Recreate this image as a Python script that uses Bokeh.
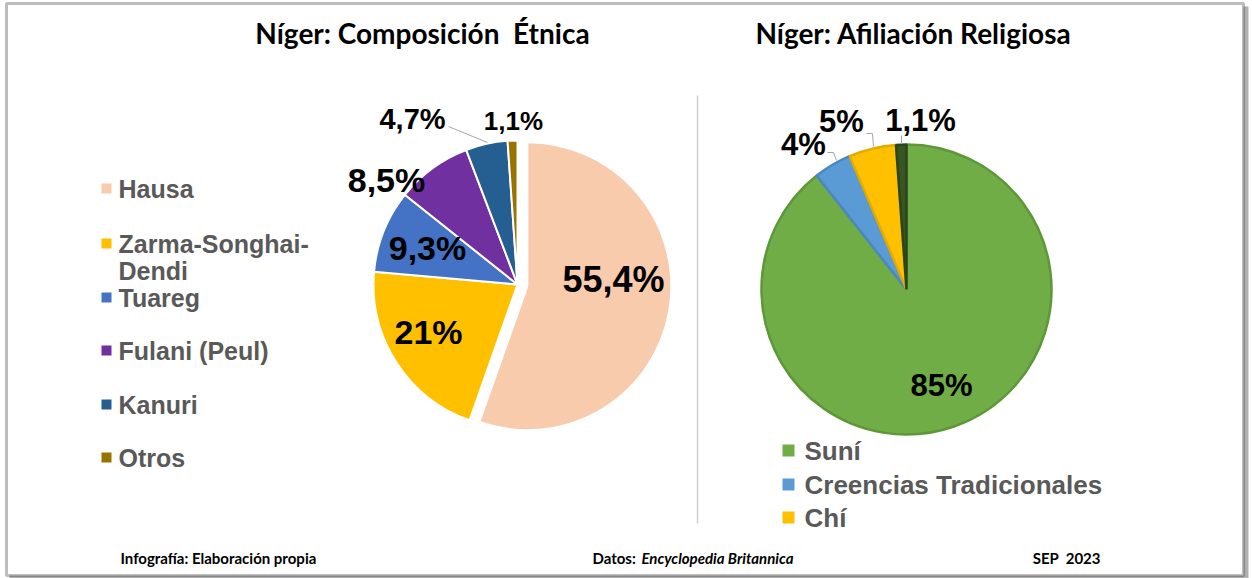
import math
from bokeh.plotting import figure
from bokeh.models import Range1d, BoxAnnotation
from bokeh.core.properties import value
from bokeh.embed import file_html
from bokeh.resources import INLINE

# ---------------- data ----------------
eth_labels = ["Hausa", "Zarma-Songhai-Dendi", "Tuareg", "Fulani (Peul)", "Kanuri", "Otros"]
eth_values = [55.4, 21, 9.3, 8.5, 4.7, 1.1]
eth_colors = ["#F8CBAD", "#FFC000", "#4472C4", "#7030A0", "#255E91", "#997300"]

rel_labels = ["Suní", "Creencias Tradicionales", "Chí", "Otras"]
rel_values = [85, 4, 5, 1.1]
rel_colors = ["#70AD47", "#5B9BD5", "#FFC000", "#375623"]
rel_lines = ["#5E9638", "#4A88C2", "#E3AA00", "#2C461C"]
rel_legend_count = 3

title_left = "Níger: Composición\u00a0 Étnica"
title_right = "Níger: Afiliación Religiosa"
foot_left = "Infografía: Elaboración propia"
foot_mid_a = "Datos:"
foot_mid_b = "Encyclopedia Britannica"
foot_right = "SEP\u00a0 2023"

# ---------------- layout ----------------
W, H = 1252, 578
def Y(s):
    return H - s

def fmt(v):
    return f"{v:g}".replace(".", ",") + "%"

def wedges(vals, cx, cy, explode):
    tot = sum(vals)
    xs, ys, st, en = [], [], [], []
    c = 0.0
    for v, e in zip(vals, explode):
        a0 = math.pi / 2 - 2 * math.pi * c / tot
        a1 = math.pi / 2 - 2 * math.pi * (c + v) / tot
        mid = (a0 + a1) / 2
        xs.append(cx + e * math.cos(mid))
        ys.append(cy + e * math.sin(mid))
        st.append(a0)
        en.append(a1)
        c += v
    return xs, ys, st, en

p = figure(width=W, height=H, x_range=Range1d(0, W), y_range=Range1d(0, H),
           output_backend="svg", toolbar_location=None, min_border=0)
p.axis.visible = False
p.grid.visible = False
p.outline_line_color = None
p.background_fill_color = "white"
p.border_fill_color = "white"

# frame with shadow
p.add_layout(BoxAnnotation(left=9, right=1248, top=Y(6), bottom=0, fill_color="#B0B0B0",
                           fill_alpha=1, line_color=None, level="underlay"))
p.add_layout(BoxAnnotation(left=6, right=1243, top=Y(3), bottom=Y(575), fill_color="white",
                           fill_alpha=1, line_color="#262626", line_width=3, level="underlay"))

# divider
p.segment(x0=[697], y0=[Y(95)], x1=[697], y1=[Y(523)], line_color="#D0D0D0", line_width=1.5)

# titles
tf = value("Lato")
p.text(x=[422], y=[Y(32)], text=[title_left], text_font=tf, text_font_style="bold",
       text_font_size="28px", text_align="center", text_baseline="middle", text_color="black")
p.text(x=[913], y=[Y(32)], text=[title_right], text_font=tf, text_font_style="bold",
       text_font_size="28px", text_align="center", text_baseline="middle", text_color="black")

# ---- left pie ----
lx, ly, lr = 517, Y(284), 144
explode = [10] + [0] * (len(eth_values) - 1)
xs, ys, st, en = wedges(eth_values, lx, ly, explode)
p.wedge(x=xs, y=ys, radius=lr, start_angle=st, end_angle=en, direction="clock",
        fill_color=eth_colors, line_color="white", line_width=2)

eth_label_pos = [(613, 279), (428, 331), (427, 247), (386, 179), (412, 118), (513, 120)]
eth_label_size = ["36px", "34px", "34px", "34px", "29px", "26px"]
for (px, py), t, sz in zip(eth_label_pos, [fmt(v) for v in eth_values], eth_label_size):
    p.text(x=[px], y=[Y(py)], text=[t], text_font=value("Liberation Sans"), text_font_style="bold",
           text_font_size=sz, text_align="center", text_baseline="middle", text_color="black")
# leader for 4,7%
p.line(x=[448, 487], y=[Y(126), Y(142)], line_color="#A6A6A6", line_width=1)

# left legend
leg_rows = [188, 243, 297, 350, 404, 457]
p.scatter(x=[106] * len(eth_labels), y=[Y(r) for r in leg_rows], marker="square", size=10,
          fill_color=eth_colors, line_color=None)
for lab, r in zip(eth_labels, leg_rows):
    lines = [lab]
    if lab.count("-") == 2:
        i = lab.rfind("-")
        lines = [lab[:i + 1], lab[i + 1:]]
    for k, ln in enumerate(lines):
        p.text(x=[118], y=[Y(r + 27 * k)], text=[ln], text_font=value("Liberation Sans"),
               text_font_style="bold", text_font_size="25px", text_align="left",
               text_baseline="middle", text_color="#595959")

# ---- right pie ----
rx, ry, rr = 906, Y(289), 145
xs, ys, st, en = wedges(rel_values, rx, ry, [0] * len(rel_values))
p.wedge(x=xs, y=ys, radius=rr, start_angle=st, end_angle=en, direction="clock",
        fill_color=rel_colors, line_color=rel_lines, line_width=2.5)

rel_label_pos = [(941, 385), (803, 144), (841, 121), (920, 120)]
for (px, py), t in zip(rel_label_pos, [fmt(v) for v in rel_values]):
    p.text(x=[px], y=[Y(py)], text=[t], text_font=value("Liberation Sans"), text_font_style="bold",
           text_font_size="31px", text_align="center", text_baseline="middle", text_color="black")
# leaders
p.multi_line(xs=[[827, 833, 836], [866, 872, 873], [901, 901]],
             ys=[[Y(152), Y(152), Y(160)], [Y(133), Y(133), Y(146)], [Y(135), Y(143)]],
             line_color="#A6A6A6", line_width=1)

# right legend
rleg_rows = [450, 484, 517]
p.scatter(x=[788] * rel_legend_count, y=[Y(r) for r in rleg_rows], marker="square", size=12,
          fill_color=rel_colors[:rel_legend_count], line_color=None)
for lab, r in zip(rel_labels[:rel_legend_count], rleg_rows):
    p.text(x=[804], y=[Y(r)], text=[lab], text_font=value("Liberation Sans"),
           text_font_style="bold", text_font_size="26px", text_align="left",
           text_baseline="middle", text_color="#595959")

# footer
ff = value("Lato")
fs = "15px"
p.text(x=[120], y=[Y(557)], text=[foot_left], text_font=ff, text_font_size=fs, text_font_style="bold",
       text_align="left", text_baseline="middle", text_color="black")
p.text(x=[592], y=[Y(557)], text=[foot_mid_a], text_font=ff, text_font_size=fs, text_font_style="bold",
       text_align="left", text_baseline="middle", text_color="black")
p.text(x=[641], y=[Y(557)], text=[foot_mid_b], text_font=ff, text_font_size=fs,
       text_font_style="bold italic", text_align="left", text_baseline="middle", text_color="black")
p.text(x=[1100], y=[Y(557)], text=[foot_right], text_font=ff, text_font_size=fs, text_font_style="bold",
       text_align="right", text_baseline="middle", text_color="black")

open("out.html", "w").write(file_html(p, INLINE))
